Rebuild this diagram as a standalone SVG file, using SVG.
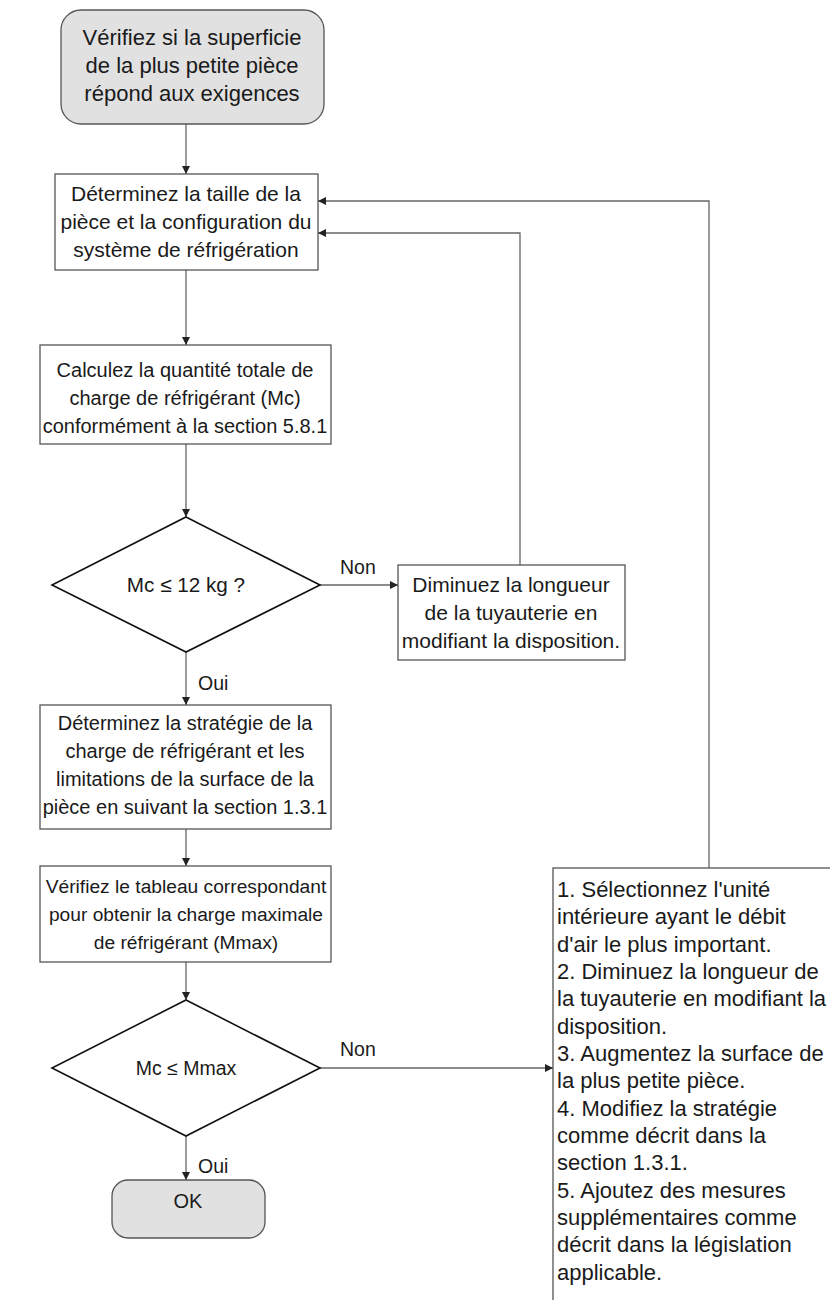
<svg xmlns="http://www.w3.org/2000/svg" width="830" height="1300" viewBox="0 0 830 1300">
<defs>
<style>
text{font-family:"Liberation Sans",Arial,sans-serif;font-size:20px;fill:#1a1a1a}
.c{text-anchor:middle}
.box{fill:#fff;stroke:#555;stroke-width:1.3}
.term{fill:#e1e1e1;stroke:#555;stroke-width:1.3}
.dia{fill:#fff;stroke:#111;stroke-width:1.6}
.ln{fill:none;stroke:#666;stroke-width:1.3}
.lbl{font-size:19.5px}
</style>
<marker id="ah" viewBox="0 0 10 10" refX="10" refY="5" markerWidth="8" markerHeight="8" markerUnits="userSpaceOnUse" orient="auto"><path d="M0,0L10,5L0,10z" fill="#222"/></marker>
</defs>
<g id="connectors">
<path class="ln" d="M186,124V174" marker-end="url(#ah)"/>
<path class="ln" d="M186,270V345" marker-end="url(#ah)"/>
<path class="ln" d="M186,444V517" marker-end="url(#ah)"/>
<path class="ln" d="M320,585H398" marker-end="url(#ah)"/>
<path class="ln" d="M520,565V233H318" marker-end="url(#ah)"/>
<path class="ln" d="M186,652V705" marker-end="url(#ah)"/>
<path class="ln" d="M186,829V866" marker-end="url(#ah)"/>
<path class="ln" d="M186,962V1000" marker-end="url(#ah)"/>
<path class="ln" d="M320,1068H553" marker-end="url(#ah)"/>
<path class="ln" d="M186,1136V1180" marker-end="url(#ah)"/>
<path class="ln" d="M709,868V201H318" marker-end="url(#ah)"/>
<text class="lbl" x="340" y="574">Non</text>
<text class="lbl" x="198" y="690">Oui</text>
<text class="lbl" x="340" y="1056">Non</text>
<text class="lbl" x="198" y="1173">Oui</text>
</g>
<g id="start">
<rect class="term" x="61" y="10" width="263" height="114" rx="20"/>
<text class="c" x="192" y="45" style="font-size:22px">Vérifiez si la superficie</text>
<text class="c" x="192" y="73" style="font-size:22px">de la plus petite pièce</text>
<text class="c" x="192" y="101" style="font-size:22px">répond aux exigences</text>
</g>
<g id="size">
<rect class="box" x="55" y="174" width="263" height="96"/>
<text class="c" x="186" y="201" style="font-size:21px">Déterminez la taille de la</text>
<text class="c" x="186" y="229" style="font-size:21px">pièce et la configuration du</text>
<text class="c" x="186" y="257" style="font-size:21px">système de réfrigération</text>
</g>
<g id="calc">
<rect class="box" x="40" y="345" width="291" height="99"/>
<text class="c" x="185" y="377">Calculez la quantité totale de</text>
<text class="c" x="185" y="405">charge de réfrigérant (Mc)</text>
<text class="c" x="185" y="433">conformément à la section 5.8.1</text>
</g>
<g id="d1">
<polygon class="dia" points="186,517 320,585 186,652 52,585"/>
<text class="c" x="186" y="592" style="font-size:20.7px">Mc ≤ 12 kg ?</text>
</g>
<g id="reduce">
<rect class="box" x="398" y="565" width="227" height="95"/>
<text class="c" x="511" y="592" style="font-size:21px">Diminuez la longueur</text>
<text class="c" x="511" y="620" style="font-size:21px">de la tuyauterie en</text>
<text class="c" x="511" y="648" style="font-size:21px">modifiant la disposition.</text>
</g>
<g id="strategy">
<rect class="box" x="40" y="705" width="291" height="124"/>
<text class="c" x="185" y="730">Déterminez la stratégie de la</text>
<text class="c" x="185" y="758">charge de réfrigérant et les</text>
<text class="c" x="185" y="786">limitations de la surface de la</text>
<text class="c" x="185" y="814">pièce en suivant la section 1.3.1</text>
</g>
<g id="table">
<rect class="box" x="40" y="866" width="291" height="96"/>
<text class="c" x="186" y="893" style="font-size:19.2px">Vérifiez le tableau correspondant</text>
<text class="c" x="186" y="921" style="font-size:19.2px">pour obtenir la charge maximale</text>
<text class="c" x="186" y="949" style="font-size:19.2px">de réfrigérant (Mmax)</text>
</g>
<g id="d2">
<polygon class="dia" points="186,1000 320,1068 186,1136 52,1068"/>
<text class="c" x="186" y="1075" style="font-size:19.5px">Mc ≤ Mmax</text>
</g>
<g id="ok">
<rect class="term" x="112" y="1180" width="153" height="58" rx="16"/>
<text class="c" x="188" y="1208">OK</text>
</g>
<g id="actions">
<rect class="box" x="553" y="868" width="320" height="460"/>
<text x="557" y="897" style="font-size:22px">1. Sélectionnez l'unité</text>
<text x="557" y="924" style="font-size:22px">intérieure ayant le débit</text>
<text x="557" y="952" style="font-size:22px">d'air le plus important.</text>
<text x="557" y="979" style="font-size:22px">2. Diminuez la longueur de</text>
<text x="557" y="1006" style="font-size:22px">la tuyauterie en modifiant la</text>
<text x="557" y="1034" style="font-size:22px">disposition.</text>
<text x="557" y="1061" style="font-size:22px">3. Augmentez la surface de</text>
<text x="557" y="1088" style="font-size:22px">la plus petite pièce.</text>
<text x="557" y="1116" style="font-size:22px">4. Modifiez la stratégie</text>
<text x="557" y="1143" style="font-size:22px">comme décrit dans la</text>
<text x="557" y="1170" style="font-size:22px">section 1.3.1.</text>
<text x="557" y="1198" style="font-size:22px">5. Ajoutez des mesures</text>
<text x="557" y="1225" style="font-size:22px">supplémentaires comme</text>
<text x="557" y="1252" style="font-size:22px">décrit dans la législation</text>
<text x="557" y="1280" style="font-size:22px">applicable.</text>
</g>
</svg>
